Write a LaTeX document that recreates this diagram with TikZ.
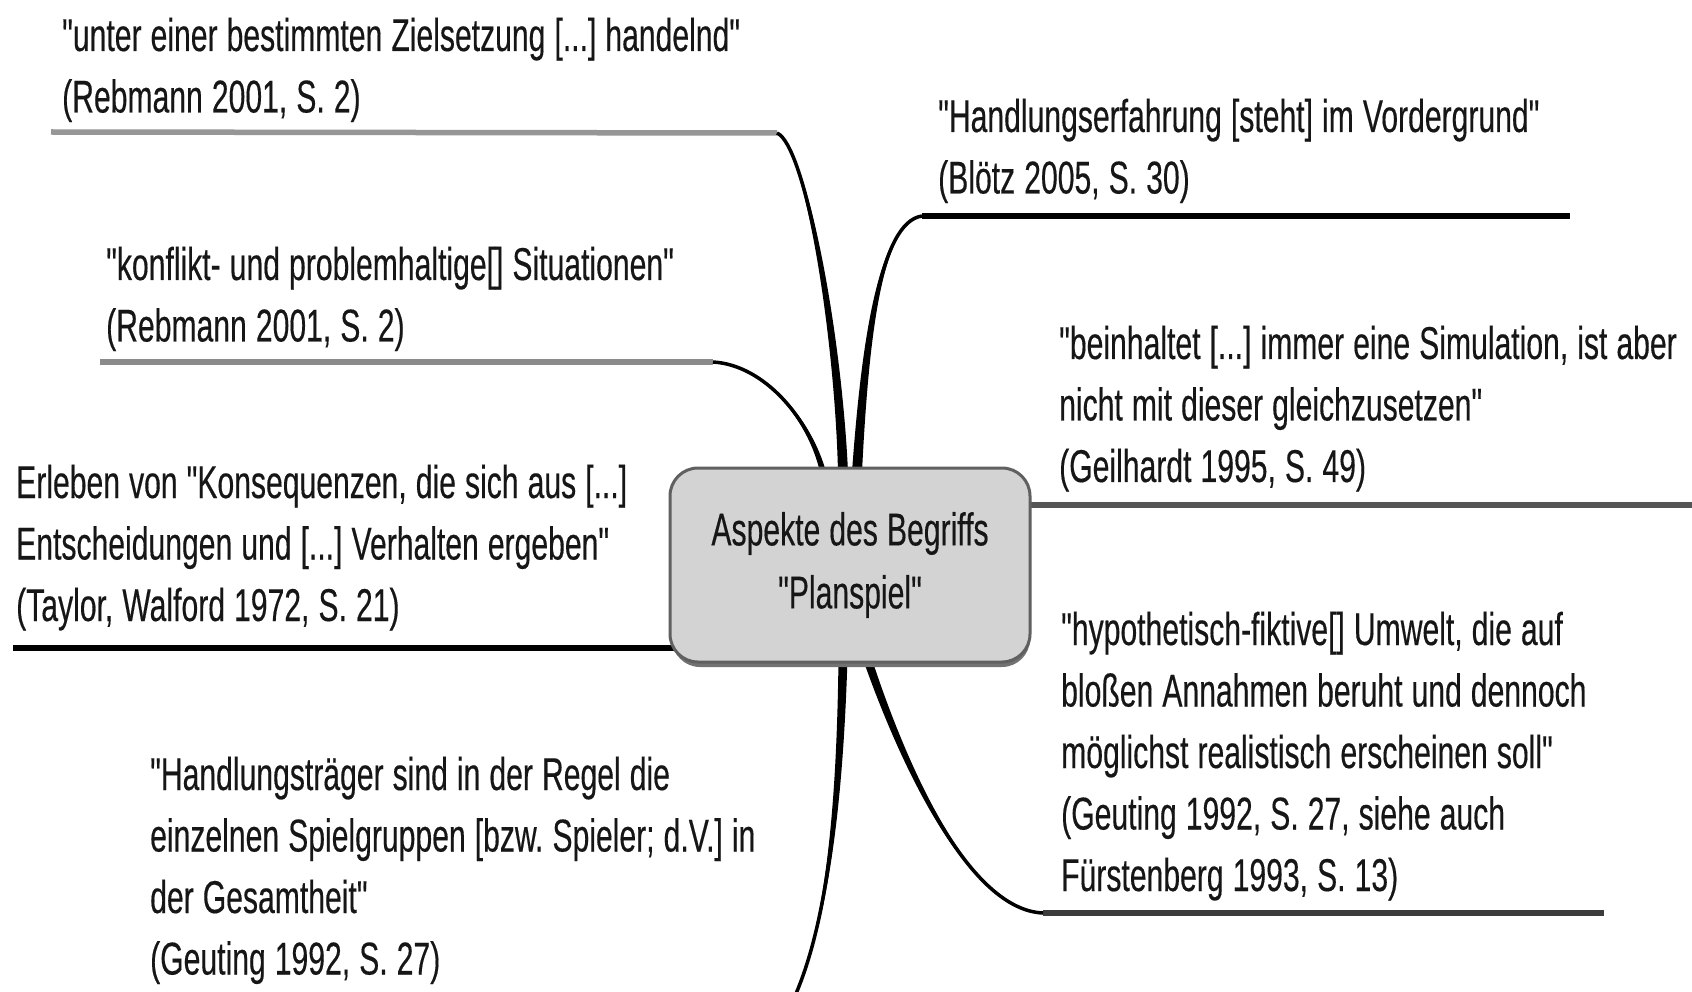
\documentclass[tikz,border=0pt]{standalone}
\usepackage{fontspec}
\newfontfamily\qfont[FakeStretch=0.655, WordSpace=1.08, FakeBold=0.3]{Liberation Sans}
\usetikzlibrary{calc}
\definecolor{txt}{HTML}{161616}
\definecolor{lgray}{HTML}{969696}
\definecolor{mgray}{HTML}{8A8A8A}
\definecolor{dgray}{HTML}{555555}
\definecolor{ddgray}{HTML}{3C3C3C}
\definecolor{boxfill}{HTML}{D3D3D3}
\definecolor{boxline}{HTML}{606060}
\definecolor{shadowc}{HTML}{727272}
\newcommand\taperbranch[5]{%
  \fill[branch] ($(#1)+(-#5,0)$) .. controls ($(#2)+({-0.7*#5},0)$) and ($(#3)+({-0.3*#5},0)$) .. (#4)
     .. controls ($(#3)+({0.3*#5},0)$) and ($(#2)+({0.7*#5},0)$) .. ($(#1)+(#5,0)$) -- cycle;
  \draw[branch, line width=3.5] (#1) .. controls (#2) and (#3) .. (#4);}
\begin{document}
\begin{tikzpicture}[x=1pt,y=-1pt,
  quote/.style={anchor=base west, inner sep=0pt, text width=800pt, align=flush left,
                font=\qfont\fontsize{46}{61.5}\selectfont\frenchspacing, text=txt},
  hline/.style={line width=5.5, line cap=butt},
  branch/.style={black},
  corebox/.style={rounded corners=28, fill=boxfill, draw=boxline, line width=3,
                  minimum width=360, minimum height=194, align=center, inner sep=0pt,
                  font=\qfont\fontsize{46}{63}\selectfont, text=txt}]
\useasboundingbox (0,0) rectangle (1692,992);
\fill[white] (0,0) rectangle (1692,992);

% branch coordinates
\coordinate (a1) at (843,472); \coordinate (k1a) at (838,330); \coordinate (k1b) at (805,145); \coordinate (e1) at (777,133);
\coordinate (a2) at (823,472); \coordinate (k2a) at (810,420); \coordinate (k2b) at (765,365); \coordinate (e2) at (713,362);
\coordinate (a3) at (857,472); \coordinate (k3a) at (865,340); \coordinate (k3b) at (880,222); \coordinate (e3) at (922,216);
\coordinate (a4) at (843,658); \coordinate (k4a) at (840,800); \coordinate (k4b) at (828,920); \coordinate (e4) at (795,996);
\coordinate (a5) at (867,658); \coordinate (k5a) at (905,770); \coordinate (k5b) at (970,910); \coordinate (e5) at (1043,913);

% free ends of the horizontal lines
\coordinate (s1) at (51,132);
\coordinate (s2) at (100,362);
\coordinate (s3) at (13,648);  \coordinate (f3) at (675,648);
\coordinate (f5) at (1570,216);
\coordinate (s6) at (1025,505); \coordinate (f6) at (1692,505);
\coordinate (f7) at (1604,913);

% horizontal lines
\draw[hline, lgray] (s1) -- (e1);
\draw[hline, mgray] (s2) -- (e2);
\draw[hline, black] (s3) -- (f3);
\draw[hline, black] (e3) -- (f5);
\draw[hline, dgray] (s6) -- (f6);
\draw[hline, ddgray] (e5) -- (f7);

% curved branches
\taperbranch{a1}{k1a}{k1b}{e1}{5}
\taperbranch{a2}{k2a}{k2b}{e2}{3}
\taperbranch{a3}{k3a}{k3b}{e3}{5}
\taperbranch{a4}{k4a}{k4b}{e4}{4.5}
\taperbranch{a5}{k5a}{k5b}{e5}{4.5}

% central box with shadow
\fill[shadowc, rounded corners=28] (672,476) rectangle (1030,667);
\node[corebox] (core) at (850,565) {Aspekte des Begriffs\\"Planspiel"};

% texts
\node[quote] (t1) at (62,51) {"unter einer bestimmten Zielsetzung [...] handelnd"\\(Rebmann 2001, S. 2)};
\node[quote] (t2) at (106,280) {"konflikt- und problemhaltige[] Situationen"\\(Rebmann 2001, S. 2)};
\node[quote] (t3) at (16,498) {Erleben von "Konsequenzen, die sich aus [...]\\Entscheidungen und [...] Verhalten ergeben"\\(Taylor, Walford 1972, S. 21)};
\node[quote] (t4) at (150,790) {"Handlungsträger sind in der Regel die\\einzelnen Spielgruppen [bzw. Spieler; d.V.] in\\der Gesamtheit"\\(Geuting 1992, S. 27)};
\node[quote] (t5) at (938,132) {"Handlungserfahrung [steht] im Vordergrund"\\(Blötz 2005, S. 30)};
\node[quote] (t6) at (1059,359) {"beinhaltet [...] immer eine Simulation, ist aber\\nicht mit dieser gleichzusetzen"\\(Geilhardt 1995, S. 49)};
\node[quote] (t7) at (1061,645) {"hypothetisch-fiktive[] Umwelt, die auf\\bloßen Annahmen beruht und dennoch\\möglichst realistisch erscheinen soll"\\(Geuting 1992, S. 27, siehe auch\\Fürstenberg 1993, S. 13)};
\end{tikzpicture}
\end{document}
